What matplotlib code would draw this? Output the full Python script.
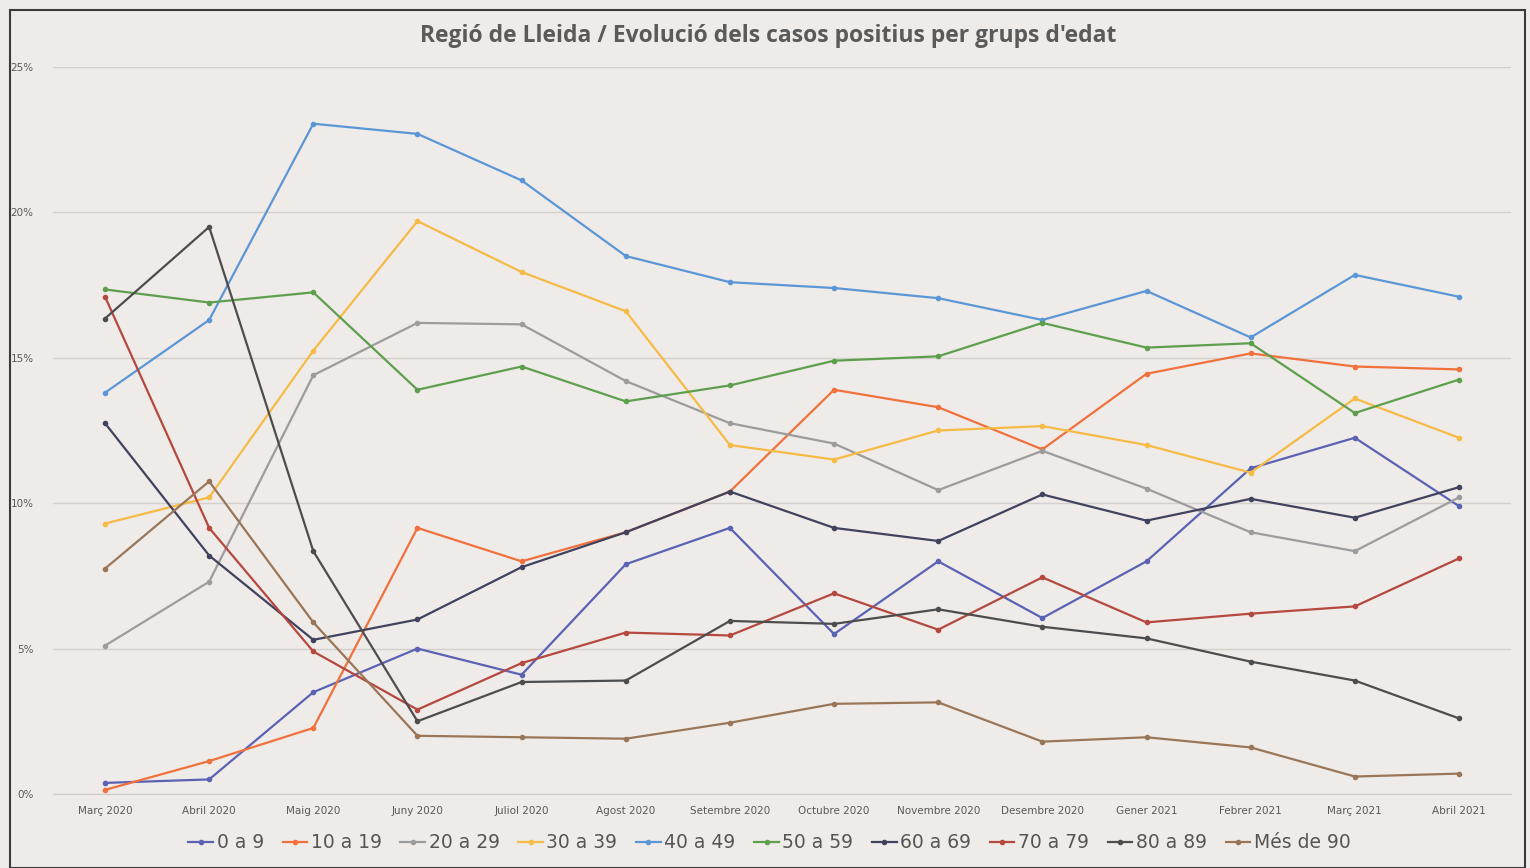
# Regió de Lleida - evolució dels casos positius per grups d'edat
import matplotlib
matplotlib.use("Agg")
import matplotlib.pyplot as plt
from matplotlib.patches import Rectangle
from matplotlib.ticker import FuncFormatter

months = ["Març 2020", "Abril 2020", "Maig 2020", "Juny 2020", "Juliol 2020",
          "Agost 2020", "Setembre 2020", "Octubre 2020", "Novembre 2020",
          "Desembre 2020", "Gener 2021", "Febrer 2021", "Març 2021", "Abril 2021"]

g_0_9 = [0.38, 0.5, 3.5, 5.0, 4.1, 7.9, 9.15, 5.5, 8.0, 6.05, 8.0, 11.2, 12.25, 9.9]
g_10_19 = [0.14, 1.13, 2.27, 9.15, 8.0, 9.0, 10.4, 13.9, 13.3, 11.85, 14.45, 15.15, 14.7, 14.6]
g_20_29 = [5.1, 7.3, 14.4, 16.2, 16.15, 14.2, 12.75, 12.05, 10.45, 11.8, 10.5, 9.0, 8.35, 10.2]
g_30_39 = [9.3, 10.2, 15.25, 19.7, 17.95, 16.6, 12.0, 11.5, 12.5, 12.65, 12.0, 11.05, 13.6, 12.25]
g_40_49 = [13.8, 16.3, 23.05, 22.7, 21.1, 18.5, 17.6, 17.4, 17.05, 16.3, 17.3, 15.7, 17.85, 17.1]
g_50_59 = [17.35, 16.9, 17.25, 13.9, 14.7, 13.5, 14.05, 14.9, 15.05, 16.2, 15.35, 15.5, 13.1, 14.25]
g_60_69 = [12.75, 8.2, 5.3, 6.0, 7.8, 9.0, 10.4, 9.15, 8.7, 10.3, 9.4, 10.15, 9.5, 10.55]
g_70_79 = [17.1, 9.15, 4.9, 2.9, 4.5, 5.55, 5.45, 6.9, 5.65, 7.45, 5.9, 6.2, 6.45, 8.1]
g_80_89 = [16.35, 19.5, 8.35, 2.5, 3.85, 3.9, 5.95, 5.85, 6.35, 5.75, 5.35, 4.55, 3.9, 2.6]
g_90 = [7.75, 10.75, 5.9, 2.0, 1.95, 1.9, 2.45, 3.1, 3.15, 1.8, 1.95, 1.6, 0.6, 0.7]

series = [
    ("0 a 9", g_0_9, "#5a62b4"),
    ("10 a 19", g_10_19, "#f0713c"),
    ("20 a 29", g_20_29, "#9c9c9c"),
    ("30 a 39", g_30_39, "#f6bb45"),
    ("40 a 49", g_40_49, "#5b97d6"),
    ("50 a 59", g_50_59, "#5e9f4e"),
    ("60 a 69", g_60_69, "#41425e"),
    ("70 a 79", g_70_79, "#b5483f"),
    ("80 a 89", g_80_89, "#4d4d4d"),
    ("Més de 90", g_90, "#9a7658"),
]

bg = "#efebe9"
fig = plt.figure(figsize=(15.3, 8.68), dpi=100, facecolor=bg)
ax = fig.add_axes([0.0346, 0.0853, 0.953, 0.8375])
ax.set_facecolor(bg)

x = list(range(len(months)))
for name, vals, col in series:
    ax.plot(x, vals, color=col, linewidth=1.6, marker="o", markersize=3.0, label=name)

ax.set_xlim(-0.5, len(months) - 0.5)
ax.set_ylim(0, 25)
ax.set_yticks([0, 5, 10, 15, 20, 25])
ax.yaxis.set_major_formatter(FuncFormatter(lambda v, p: f"{v:.0f}%"))
ax.set_xticks(x)
ax.set_xticklabels(months)
ax.grid(axis="y", color="#d3cfcb", linewidth=1.0)
ax.set_axisbelow(True)
for s in ["top", "right", "left"]:
    ax.spines[s].set_visible(False)
ax.spines["bottom"].set_color("#cfcbc7")
ax.tick_params(axis="both", length=0, colors="#595959", labelsize=7.5)
ax.tick_params(axis="x", pad=9)
ax.tick_params(axis="y", pad=14)

fig.text(0.502, 0.959, "Regió de Lleida / Evolució dels casos positius per grups d'edat",
         ha="center", va="center", fontsize=16.5, fontweight="bold",
         color="#5a5a5a", family="Open Sans")

leg = fig.legend(loc="center", bbox_to_anchor=(0.503, 0.029), ncol=10, frameon=False,
                 fontsize=13.5, handlelength=1.3, handletextpad=0.2, columnspacing=1.0,
                 labelcolor="#555555")

fig.patches.append(Rectangle((0.0065, 0.0), 0.99, 0.988, transform=fig.transFigure,
                             fill=False, edgecolor="#3a3a3a", linewidth=1.5))

fig.savefig("out.png", dpi=100, facecolor=bg)
